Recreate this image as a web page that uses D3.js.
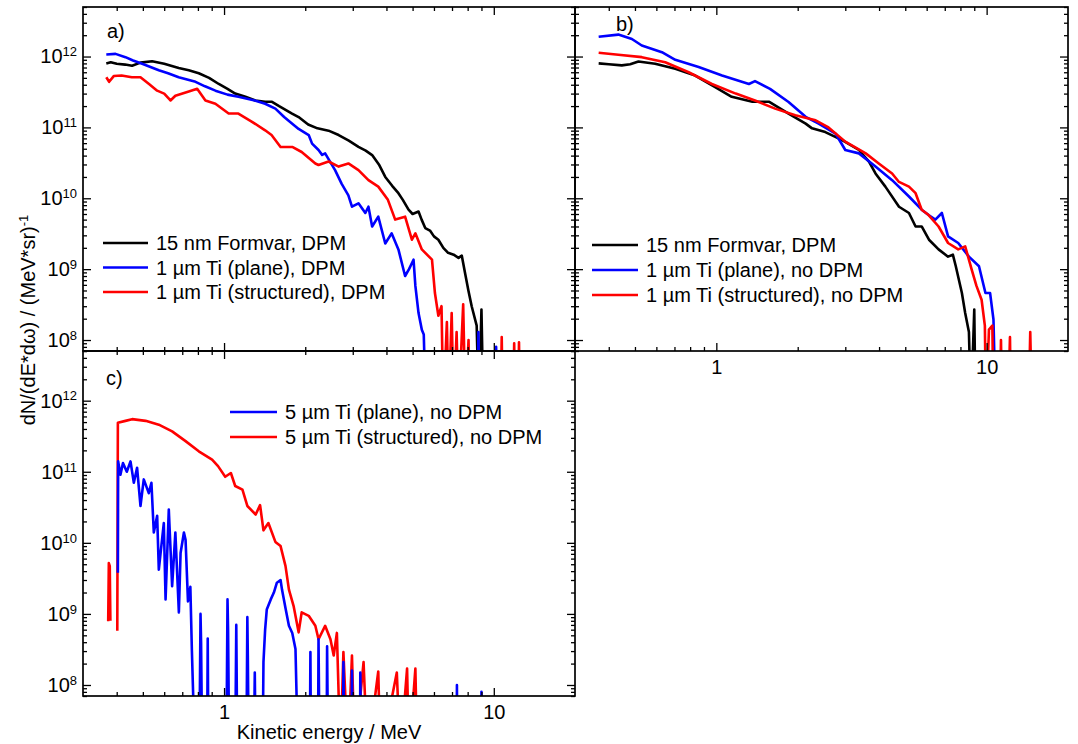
<!DOCTYPE html>
<html><head><meta charset="utf-8">
<script src="https://cdn.jsdelivr.net/npm/d3@7"></script>
<style>
body{margin:0;background:#fff}
svg{display:block}
text{font-family:"Liberation Sans",Arial,Helvetica,sans-serif;fill:#000}
</style>
</head><body>
<svg id="chart" width="1078" height="744"></svg>
<script>
// ---------------- data (E in MeV, dN/(dE dΩ) in (MeV sr)^-1) ----------------
// values of 1e7 mark zero counts (below the plotted range)
const xDomain = [0.3, 20];
const yDomain = [7e7, 5e12];
const xMajorTicks = [1, 10];
const xTickLabels = ["1", "10"];
const yMajorTicks = [1e8, 1e9, 1e10, 1e11, 1e12];
const yTickExponents = ["8", "9", "10", "11", "12"];

const legendA = ["15 nm Formvar, DPM", "1 \u00b5m Ti (plane), DPM", "1 \u00b5m Ti (structured), DPM"];
const legendB = ["15 nm Formvar, DPM", "1 \u00b5m Ti (plane), no DPM", "1 \u00b5m Ti (structured), no DPM"];
const legendC = ["5 \u00b5m Ti (plane), no DPM", "5 \u00b5m Ti (structured), no DPM"];

const a_formvar = [[0.366,8.0e11],[0.38,8.3e11],[0.40,7.9e11],[0.43,7.7e11],[0.456,7.4e11],[0.49,8.2e11],[0.541,8.6e11],[0.60,7.9e11],[0.679,6.9e11],[0.74,6.4e11],[0.806,5.8e11],[0.88,5.0e11],[0.956,4.1e11],[1.03,3.5e11],[1.10,3.0e11],[1.2,2.7e11],[1.307,2.4e11],[1.42,2.3e11],[1.506,2.3e11],[1.6,2.0e11],[1.787,1.57e11],[1.89,1.4e11],[2.05,1.1e11],[2.22,9.7e10],[2.44,9.0e10],[2.66,7.8e10],[2.9,6.5e10],[3.15,5.3e10],[3.35,4.7e10],[3.54,4.07e10],[3.75,3.0e10],[3.96,2.0e10],[4.2,1.5e10],[4.43,1.18e10],[4.6,9.5e9],[4.83,6.9e9],[5.0,6.0e9],[5.26,6.5e9],[5.4,5.0e9],[5.57,3.8e9],[5.8,3.5e9],[6.0,2.9e9],[6.23,2.6e9],[6.5,2.0e9],[6.77,1.7e9],[7.1,1.6e9],[7.40,1.44e9],[7.61,1.55e9],[7.82,8.9e8],[8.05,5.0e8],[8.28,3.0e8],[8.64,1.6e8],[8.8,1e7],[9.0,2.7e8],[9.15,1e7]];
const a_tiPlane = [[0.366,1.07e12],[0.396,1.09e12],[0.431,9.8e11],[0.46,8.8e11],[0.497,7.9e11],[0.573,6.4e11],[0.62,5.8e11],[0.679,5.1e11],[0.784,4.4e11],[0.85,3.8e11],[0.929,3.3e11],[1.03,2.9e11],[1.13,2.7e11],[1.3,2.4e11],[1.42,2.16e11],[1.55,1.84e11],[1.67,1.4e11],[1.79,1.13e11],[1.89,9.5e10],[2.06,7.8e10],[2.12,5.9e10],[2.24,4.8e10],[2.31,4.1e10],[2.37,4.3e10],[2.58,2.5e10],[2.73,1.6e10],[2.89,1.1e10],[2.98,7.6e9],[3.15,8.5e9],[3.34,6.2e9],[3.43,7.6e9],[3.54,4.0e9],[3.73,5.5e9],[3.96,2.3e9],[4.18,3.2e9],[4.43,1.9e9],[4.69,8.0e8],[4.85,1.0e9],[5.04,1.36e9],[5.12,5.8e8],[5.26,2.4e8],[5.41,1.4e8],[5.5,1.2e8],[5.6,1e7],[8.7,1e7],[8.77,1.3e8],[8.85,1e7],[10.1,1e7],[10.2,8e7],[10.3,1e7]];
const a_tiStruct = [[0.366,5.1e11],[0.375,4.4e11],[0.39,5.3e11],[0.417,5.4e11],[0.455,5.1e11],[0.49,5.1e11],[0.527,4.1e11],[0.565,3.3e11],[0.60,3.0e11],[0.633,2.4e11],[0.66,2.8e11],[0.74,3.2e11],[0.795,3.5e11],[0.853,2.4e11],[0.929,2.16e11],[1.04,1.57e11],[1.13,1.57e11],[1.27,1.2e11],[1.42,9.1e10],[1.5,7.8e10],[1.62,5.3e10],[1.79,5.3e10],[1.94,4.5e10],[2.18,3.1e10],[2.24,2.95e10],[2.44,3.3e10],[2.66,2.8e10],[2.89,3.1e10],[3.15,2.5e10],[3.43,1.8e10],[3.73,1.46e10],[4.05,9.5e9],[4.31,5.0e9],[4.69,5.5e9],[4.97,2.6e9],[5.12,3.2e9],[5.41,1.9e9],[5.9,1.36e9],[6.05,4.6e8],[6.23,2.2e8],[6.4,3.0e8],[6.5,1e7],[6.7,1.8e8],[6.8,1e7],[6.98,2.4e8],[7.1,1e7],[7.28,1.3e8],[7.4,1e7],[7.7,3.2e8],[7.85,1e7],[8.06,1e8],[8.15,1e7],[10.6,1e7],[10.7,1.1e8],[10.8,1e7],[11.8,1e7],[11.9,9e7],[12.0,1e7],[12.3,1e7],[12.4,9.3e7],[12.5,1e7]];

const b_formvar = [[0.367,8.0e11],[0.40,7.8e11],[0.447,7.5e11],[0.48,7.8e11],[0.515,8.5e11],[0.594,7.9e11],[0.705,6.7e11],[0.835,5.4e11],[0.99,3.7e11],[1.14,2.7e11],[1.36,2.3e11],[1.57,2.3e11],[1.85,1.57e11],[2.14,1.13e11],[2.26,9.7e10],[2.53,8.6e10],[2.92,6.6e10],[3.37,4.8e10],[3.67,3.3e10],[3.88,2.24e10],[4.22,1.46e10],[4.74,7.6e9],[5.16,6.2e9],[5.46,4.0e9],[5.75,4.0e9],[6.12,2.6e9],[6.64,1.9e9],[7.2,1.5e9],[7.5,1.6e9],[7.69,1.1e9],[8.1,4.6e8],[8.33,2.4e8],[8.6,1.3e8],[8.75,1e7],[9.0,2.7e8],[9.1,1e7]];
const b_tiPlane = [[0.367,1.9e12],[0.434,2.04e12],[0.487,1.77e12],[0.53,1.43e12],[0.629,1.15e12],[0.705,9.0e11],[0.86,7.1e11],[1.05,5.4e11],[1.32,4.1e11],[1.39,4.5e11],[1.58,3.5e11],[1.85,2.28e11],[2.14,1.41e11],[2.39,1.13e11],[2.76,8.2e10],[3.0,4.8e10],[3.37,4.3e10],[3.88,2.8e10],[4.47,1.8e10],[5.16,1.06e10],[5.75,6.9e9],[6.1,5.8e9],[6.46,5.0e9],[6.83,6.2e9],[7.2,2.9e9],[7.85,2.34e9],[8.6,1.5e9],[9.37,1.1e9],[9.9,4.6e8],[10.3,4.6e8],[10.6,1.95e8],[10.8,1e7]];
const b_tiStruct = [[0.367,1.13e12],[0.434,1.06e12],[0.53,9.8e11],[0.647,8.3e11],[0.79,6.0e11],[0.963,4.1e11],[1.18,3.0e11],[1.39,2.4e11],[1.65,1.84e11],[1.96,1.48e11],[2.33,1.26e11],[2.6,1.0e11],[3.0,6.3e10],[3.57,4.3e10],[3.99,3.1e10],[4.47,2.24e10],[4.74,1.7e10],[5.16,1.46e10],[5.46,1.18e10],[5.75,6.9e9],[6.1,5.8e9],[6.64,4.0e9],[7.2,2.34e9],[7.85,1.9e9],[8.33,2.1e9],[8.8,9.9e8],[9.17,5.8e8],[9.58,3.7e8],[9.85,1.6e8],[9.95,1e7],[10.2,1.4e8],[10.5,1.6e8],[10.6,1e7],[11.2,1e7],[11.3,1e8],[11.4,1e7],[12.0,1e7],[12.2,1.1e8],[12.3,1e7],[14.3,1e7],[14.5,1.3e8],[14.7,1e7]];

const c_tiPlane = [[0.404,3.8e9],[0.405,1.4e11],[0.413,9.1e10],[0.422,1.33e11],[0.436,1.0e11],[0.45,1.4e11],[0.463,7e10],[0.476,1.14e11],[0.49,3.3e10],[0.504,7.8e10],[0.526,5e10],[0.538,7e10],[0.549,1.4e10],[0.565,2.4e10],[0.573,4.2e9],[0.598,1.9e10],[0.607,1.6e9],[0.624,2.95e10],[0.642,2.45e9],[0.66,1.4e10],[0.68,1.05e9],[0.69,7.2e9],[0.71,1.4e10],[0.72,1.1e10],[0.735,1.5e9],[0.75,2.4e9],[0.76,3e8],[0.78,1e7],[0.81,1e7],[0.818,1.0e9],[0.822,4e8],[0.83,1e7],[0.865,1e7],[0.87,4.5e8],[0.875,1e7],[1.02,1e7],[1.03,1.6e9],[1.035,6e8],[1.045,1e7],[1.10,1e7],[1.11,7e8],[1.12,1e7],[1.21,1e7],[1.22,9e8],[1.225,2.6e8],[1.235,1e7],[1.29,1e7],[1.3,1.5e8],[1.31,1e7],[1.39,1e7],[1.40,2.1e8],[1.42,6e8],[1.44,1.15e9],[1.49,1.6e9],[1.53,2e9],[1.57,2.75e9],[1.62,3.0e9],[1.64,2.2e9],[1.69,1.2e9],[1.74,6.8e8],[1.79,5.4e8],[1.84,3.2e8],[1.88,1e7],[2.08,1e7],[2.09,2.9e8],[2.1,1e7],[2.23,1e7],[2.24,4.4e8],[2.26,1e7],[2.40,1e7],[2.41,3.5e8],[2.43,1e7],[2.76,1e7],[2.77,2.1e8],[2.79,1e7],[2.97,1e7],[2.98,1.6e8],[3.0,1e7],[3.19,1e7],[3.2,1.5e8],[3.22,1e7],[7.28,1e7],[7.3,1e8],[7.32,1e7],[8.98,1e7],[9.0,8e7],[9.02,1e7]];
const c_tiStruct = [[0.372,7.9e8],[0.374,5.2e9],[0.377,4.7e9],[0.379,8.0e8],[0.39,null],[0.402,5.8e8],[0.404,4.9e11],[0.431,5.2e11],[0.456,5.5e11],[0.512,5.2e11],[0.573,4.6e11],[0.642,3.7e11],[0.72,2.7e11],[0.806,1.94e11],[0.903,1.48e11],[0.95,1.2e11],[1.01,8.5e10],[1.06,9.6e10],[1.1,6.3e10],[1.17,5.6e10],[1.22,3.3e10],[1.31,2.5e10],[1.36,3.4e10],[1.40,1.5e10],[1.46,1.9e10],[1.55,1.03e10],[1.62,9e9],[1.69,4.7e9],[1.74,2.2e9],[1.81,1.3e9],[1.89,5.5e8],[1.94,1.05e9],[2.06,9.4e8],[2.18,6.8e8],[2.24,4.4e8],[2.37,6.8e8],[2.48,4.4e8],[2.55,2.6e8],[2.62,5.4e8],[2.7,1e7],[2.77,2.9e8],[2.88,1e7],[2.98,2.6e8],[3.05,1e7],[3.29,2.1e8],[3.4,1e7],[3.73,1.55e8],[3.8,1e7],[4.37,1.5e8],[4.5,1e7],[4.77,1.7e8],[4.85,1e7],[5.12,1.7e8],[5.2,1e7]];

// ---------------- drawing ----------------
const svg = d3.select("#chart");
const FONT = 20, SUP = 13;

function panel(id, x0, x1, y0, y1, series, opts) {
  const x = d3.scaleLog().domain(xDomain).range([x0, x1]);
  const y = d3.scaleLog().domain(yDomain).range([y1, y0]);
  const g = svg.append("g");
  g.append("clipPath").attr("id", "clip" + id)
    .append("rect").attr("x", x0).attr("y", y0).attr("width", x1 - x0).attr("height", y1 - y0);

  const line = d3.line().defined(d => d[1] != null)
    .x(d => x(d[0])).y(d => y(Math.max(d[1], 1e7)));
  const lg = g.append("g").attr("clip-path", `url(#clip${id})`);
  series.forEach(s => {
    lg.append("path").datum(s.data).attr("d", line)
      .attr("fill", "none").attr("stroke", s.color).attr("stroke-width", 2.6)
      .attr("stroke-linejoin", "round");
  });

  const yMinor = [];
  for (let e = 7; e <= 12; e++) for (let m = 2; m <= 9; m++) {
    const v = m * Math.pow(10, e);
    if (v > yDomain[0] * 0.999 && v < yDomain[1] * 1.001) yMinor.push(v);
  }
  const xMinor = [0.4,0.5,0.6,0.7,0.8,0.9,2,3,4,5,6,7,8,9];

  const clean = sel => { sel.select(".domain").remove(); sel.attr("font-family", null).attr("font-size", null); };
  const MAJ = 8, MIN = 4;

  g.append("g").attr("transform", `translate(${x0},0)`)
    .call(d3.axisLeft(y).tickValues(yMinor).tickSize(-MIN).tickFormat("")).call(clean);
  const glM = g.append("g").attr("transform", `translate(${x0},0)`);
  glM.call(d3.axisLeft(y).tickValues(yMajorTicks).tickSize(-MAJ).tickPadding(6)
      .tickFormat(() => opts.yLabels ? "10" : "")).call(clean);
  if (opts.yLabels) {
    glM.selectAll(".tick text").attr("font-size", FONT).each(function(d, i) {
      const t = d3.select(this);
      t.text(null);
      t.append("tspan").text("10");
      t.append("tspan").attr("dy", "-0.55em").attr("font-size", SUP).text(yTickExponents[i]);
    });
  }
  g.append("g").attr("transform", `translate(${x1},0)`)
    .call(d3.axisRight(y).tickValues(yMinor).tickSize(-MIN).tickFormat("")).call(clean);
  g.append("g").attr("transform", `translate(${x1},0)`)
    .call(d3.axisRight(y).tickValues(yMajorTicks).tickSize(-MAJ).tickFormat("")).call(clean);
  g.append("g").attr("transform", `translate(0,${y0})`)
    .call(d3.axisTop(x).tickValues(xMinor).tickSize(-MIN).tickFormat("")).call(clean);
  g.append("g").attr("transform", `translate(0,${y0})`)
    .call(d3.axisTop(x).tickValues(xMajorTicks).tickSize(-MAJ).tickFormat("")).call(clean);
  g.append("g").attr("transform", `translate(0,${y1})`)
    .call(d3.axisBottom(x).tickValues(xMinor).tickSize(-MIN).tickFormat("")).call(clean);
  const gb = g.append("g").attr("transform", `translate(0,${y1})`);
  gb.call(d3.axisBottom(x).tickValues(xMajorTicks).tickSize(-MAJ).tickPadding(9)
      .tickFormat((d, i) => opts.xLabels ? xTickLabels[i] : "")).call(clean);
  gb.selectAll(".tick text").attr("font-size", FONT);
  g.selectAll(".tick line").attr("stroke", "#000").attr("stroke-width", 1.3);

  g.append("rect").attr("x", x0).attr("y", y0).attr("width", x1 - x0).attr("height", y1 - y0)
    .attr("fill", "none").attr("stroke", "#000").attr("stroke-width", 1.7);

  g.append("text").attr("x", opts.label[1]).attr("y", opts.label[2]).attr("font-size", FONT).text(opts.label[0]);

  const L = opts.legend;
  series.forEach((s, i) => {
    const yy = L.y + i * L.dy;
    g.append("line").attr("x1", L.x).attr("x2", L.x + L.len).attr("y1", yy).attr("y2", yy)
      .attr("stroke", s.color).attr("stroke-width", 2.6);
    g.append("text").attr("x", L.x + L.len + 8).attr("y", yy + 7).attr("font-size", FONT).text(L.labels[i]);
  });
}

const X0 = 83, X1 = 575, X2 = 1068, Y0 = 7, Y1 = 351, Y2 = 696;

panel("a", X0, X1, Y0, Y1,
  [{data: a_formvar, color: "#000000"}, {data: a_tiPlane, color: "#0000ff"}, {data: a_tiStruct, color: "#ff0000"}],
  {yLabels: true, xLabels: false, label: ["a)", 107, 38],
   legend: {x: 103, y: 243, dy: 24.5, len: 45, labels: legendA}});

panel("b", X1, X2, Y0, Y1,
  [{data: b_formvar, color: "#000000"}, {data: b_tiPlane, color: "#0000ff"}, {data: b_tiStruct, color: "#ff0000"}],
  {yLabels: false, xLabels: true, label: ["b)", 616, 31],
   legend: {x: 592, y: 245, dy: 25, len: 46, labels: legendB}});

panel("c", X0, X1, Y1, Y2,
  [{data: c_tiPlane, color: "#0000ff"}, {data: c_tiStruct, color: "#ff0000"}],
  {yLabels: true, xLabels: true, label: ["c)", 106, 385],
   legend: {x: 230, y: 412, dy: 25, len: 47, labels: legendC}});
// in c the plane (blue) curve is drawn over the structured one
svg.selectAll("g").filter(function(){ return this.getAttribute("clip-path") === "url(#clipc)"; })
  .each(function(){ const p = d3.select(this).selectAll("path").nodes(); if (p.length === 2) this.appendChild(p[0]); });

const yt = svg.append("text").attr("transform", "translate(35,320) rotate(-90)")
  .attr("text-anchor", "middle").attr("font-size", FONT);
yt.append("tspan").text("dN/(dE*d\u03c9) / (MeV*sr)");
yt.append("tspan").attr("dy", "-0.55em").attr("font-size", SUP).text("-1");

svg.append("text").attr("x", (X0 + X1) / 2).attr("y", 739).attr("text-anchor", "middle")
  .attr("font-size", FONT).text("Kinetic energy / MeV");
</script>
</body></html>
